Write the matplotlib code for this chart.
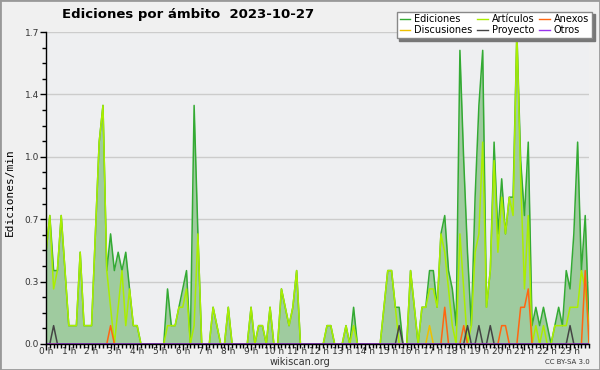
import numpy as np
import matplotlib.pyplot as plt
from matplotlib.ticker import FixedLocator, MultipleLocator, AutoMinorLocator
from matplotlib.patches import Rectangle
from matplotlib.lines import Line2D

# edits/min per 10-minute slot, 12 slots (2 hours) per row
ediciones = [
    0.5, 0.7, 0.4, 0.4, 0.7, 0.4, 0.1, 0.1, 0.1, 0.5, 0.1, 0.1,
    0.1, 0.6, 1.1, 1.3, 0.4, 0.6, 0.4, 0.5, 0.4, 0.5, 0.3, 0.1,
    0.1, 0.0, 0.0, 0.0, 0.0, 0.0, 0.0, 0.0, 0.3, 0.1, 0.1, 0.2,
    0.3, 0.4, 0.0, 1.3, 0.6, 0.0, 0.0, 0.0, 0.2, 0.1, 0.0, 0.0,
    0.2, 0.0, 0.0, 0.0, 0.0, 0.0, 0.2, 0.0, 0.1, 0.1, 0.0, 0.2,
    0.0, 0.0, 0.3, 0.2, 0.1, 0.2, 0.4, 0.0, 0.0, 0.0, 0.0, 0.0,
    0.0, 0.0, 0.1, 0.1, 0.0, 0.0, 0.0, 0.1, 0.0, 0.2, 0.0, 0.0,
    0.0, 0.0, 0.0, 0.0, 0.0, 0.2, 0.4, 0.4, 0.2, 0.2, 0.0, 0.0,
    0.4, 0.2, 0.0, 0.2, 0.2, 0.4, 0.4, 0.2, 0.6, 0.7, 0.4, 0.3,
    0.1, 1.6, 1.0, 0.5, 0.1, 0.8, 1.3, 1.6, 0.2, 0.4, 1.1, 0.6,
    0.9, 0.6, 0.8, 0.8, 1.7, 1.0, 0.7, 1.1, 0.1, 0.2, 0.1, 0.2,
    0.1, 0.0, 0.1, 0.2, 0.1, 0.4, 0.3, 0.6, 1.1, 0.4, 0.7, 0.1,
]
articulos = [
    0.5, 0.7, 0.3, 0.4, 0.7, 0.4, 0.1, 0.1, 0.1, 0.5, 0.1, 0.1,
    0.1, 0.6, 1.1, 1.3, 0.4, 0.2, 0.0, 0.2, 0.4, 0.1, 0.3, 0.1,
    0.1, 0.0, 0.0, 0.0, 0.0, 0.0, 0.0, 0.0, 0.1, 0.1, 0.1, 0.2,
    0.2, 0.3, 0.0, 0.1, 0.6, 0.0, 0.0, 0.0, 0.2, 0.1, 0.0, 0.0,
    0.2, 0.0, 0.0, 0.0, 0.0, 0.0, 0.2, 0.0, 0.1, 0.1, 0.0, 0.2,
    0.0, 0.0, 0.3, 0.2, 0.1, 0.2, 0.4, 0.0, 0.0, 0.0, 0.0, 0.0,
    0.0, 0.0, 0.1, 0.1, 0.0, 0.0, 0.0, 0.1, 0.0, 0.1, 0.0, 0.0,
    0.0, 0.0, 0.0, 0.0, 0.0, 0.2, 0.4, 0.4, 0.2, 0.0, 0.0, 0.0,
    0.4, 0.2, 0.0, 0.2, 0.2, 0.3, 0.3, 0.2, 0.6, 0.5, 0.3, 0.1,
    0.0, 0.6, 0.3, 0.0, 0.1, 0.5, 0.6, 1.1, 0.2, 0.4, 1.0, 0.5,
    0.8, 0.6, 0.8, 0.7, 1.7, 0.9, 0.3, 0.7, 0.0, 0.1, 0.0, 0.1,
    0.0, 0.0, 0.1, 0.1, 0.1, 0.1, 0.2, 0.2, 0.2, 0.4, 0.3, 0.1,
]
anexos = [
    0, 0, 0, 0, 0, 0, 0, 0, 0, 0, 0, 0,
    0, 0, 0, 0, 0, 0.1, 0, 0, 0, 0, 0, 0,
    0, 0, 0, 0, 0, 0, 0, 0, 0, 0, 0, 0,
    0, 0, 0, 0, 0, 0, 0, 0, 0, 0, 0, 0,
    0, 0, 0, 0, 0, 0, 0, 0, 0, 0, 0, 0,
    0, 0, 0, 0, 0, 0, 0, 0, 0, 0, 0, 0,
    0, 0, 0, 0, 0, 0, 0, 0, 0, 0, 0, 0,
    0, 0, 0, 0, 0, 0, 0, 0, 0, 0, 0, 0,
    0, 0, 0, 0, 0, 0, 0, 0, 0, 0.2, 0, 0,
    0, 0, 0.1, 0, 0, 0, 0, 0, 0, 0, 0, 0,
    0.1, 0.1, 0, 0, 0, 0.2, 0.2, 0.3, 0, 0, 0, 0,
    0, 0, 0, 0, 0, 0, 0, 0, 0, 0, 0.4, 0,
]
discusiones = [
    0, 0, 0, 0, 0, 0, 0, 0, 0, 0, 0, 0,
    0, 0, 0, 0, 0, 0, 0, 0, 0, 0, 0, 0,
    0, 0, 0, 0, 0, 0, 0, 0, 0, 0, 0, 0,
    0, 0, 0, 0, 0, 0, 0, 0, 0, 0, 0, 0,
    0, 0, 0, 0, 0, 0, 0, 0, 0, 0, 0, 0,
    0, 0, 0, 0, 0, 0, 0, 0, 0, 0, 0, 0,
    0, 0, 0, 0, 0, 0, 0, 0, 0, 0, 0, 0,
    0, 0, 0, 0, 0, 0, 0, 0, 0, 0, 0, 0,
    0, 0, 0, 0, 0, 0.1, 0, 0, 0, 0, 0, 0,
    0, 0, 0, 0, 0, 0, 0, 0, 0, 0, 0, 0,
    0, 0, 0, 0, 0, 0, 0, 0, 0, 0, 0, 0,
    0, 0, 0, 0, 0, 0, 0, 0, 0, 0, 0, 0,
]
proyecto = [
    0, 0, 0.1, 0, 0, 0, 0, 0, 0, 0, 0, 0,
    0, 0, 0, 0, 0, 0, 0, 0, 0, 0, 0, 0,
    0, 0, 0, 0, 0, 0, 0, 0, 0, 0, 0, 0,
    0, 0, 0, 0, 0, 0, 0, 0, 0, 0, 0, 0,
    0, 0, 0, 0, 0, 0, 0, 0, 0, 0, 0, 0,
    0, 0, 0, 0, 0, 0, 0, 0, 0, 0, 0, 0,
    0, 0, 0, 0, 0, 0, 0, 0, 0, 0, 0, 0,
    0, 0, 0, 0, 0, 0, 0, 0, 0, 0.1, 0, 0,
    0, 0, 0, 0, 0, 0, 0, 0, 0, 0, 0, 0,
    0, 0, 0, 0.1, 0, 0, 0.1, 0, 0, 0.1, 0, 0,
    0, 0, 0, 0, 0, 0, 0, 0, 0, 0, 0, 0,
    0, 0, 0, 0, 0, 0, 0.1, 0, 0, 0, 0, 0,
]
otros = [0] * 144

hour_labels = [f"{h} h" for h in range(24)]
y_max = 1.7

x = np.arange(len(ediciones)) / 6.0  # hours

fig = plt.figure(figsize=(6, 3.7), dpi=100, facecolor='#f0f0f0')
ax = fig.add_axes([0.0767, 0.0703, 0.905, 0.8432])
ax.set_facecolor('#eeeff1')

ax.fill_between(x, ediciones, color='#9fcb9f', lw=0, zorder=1)
series = [
    ('Ediciones', ediciones, '#33aa33'),
    ('Artículos', articulos, '#aaee00'),
    ('Anexos', anexos, '#ff6611'),
    ('Discusiones', discusiones, '#eec000'),
    ('Proyecto', proyecto, '#444444'),
    ('Otros', otros, '#9933ee'),
]
for name, vals, col in series:
    ax.plot(x, vals, color=col, lw=1.1, zorder=2)

ax.set_xlim(0, x[-1])
ax.set_ylim(0, y_max)

yt = [y_max * k / 5 for k in range(6)]
ax.yaxis.set_major_locator(FixedLocator(yt))
ax.set_yticklabels([f"{v:.1f}" for v in yt])
ax.yaxis.set_minor_locator(AutoMinorLocator(4))
ax.set_xticks(range(24))
ax.set_xticklabels(hour_labels)
ax.xaxis.set_minor_locator(MultipleLocator(1 / 6))

ax.tick_params(axis='both', which='major', labelsize=6.5, labelcolor='#333333',
               length=4, width=1, direction='out', pad=1)
ax.tick_params(axis='x', which='major', pad=-1.5)
ax.tick_params(axis='both', which='minor', length=3, width=1, direction='out')
ax.grid(axis='y', which='major', color='#cccccc', lw=1)
ax.set_axisbelow(True)
for s in ['top', 'right']:
    ax.spines[s].set_visible(False)
for s in ['left', 'bottom']:
    ax.spines[s].set_linewidth(1)

fig.text(0.313, 0.962, 'Ediciones por ámbito  2023-10-27', ha='center', va='center',
         fontsize=9.5, fontweight='bold')
fig.text(0.017, 0.48, 'Ediciones/min', rotation=90, ha='center', va='center',
         family='DejaVu Sans Mono', fontsize=8)
fig.text(0.5, 0.022, 'wikiscan.org', ha='center', va='center', fontsize=7, color='#333333')
fig.text(0.983, 0.022, 'CC BY-SA 3.0', ha='right', va='center', fontsize=5, color='#333333')

order = [0, 3, 1, 4, 2, 5]
handles = [Line2D([], [], color=series[i][2], lw=1) for i in order]
labels = [series[i][0] for i in order]
fig.legend(handles, labels, ncol=3, loc='upper right', bbox_to_anchor=(0.995, 0.982),
           fontsize=7, fancybox=False, shadow={'color': '#777777', 'alpha': 1},
           edgecolor='#888888', handlelength=1.1, columnspacing=0.5, labelspacing=0.05,
           borderpad=0.3, handletextpad=0.4, framealpha=1)

fig.patches.append(Rectangle((0, 0), 1, 1, transform=fig.transFigure, fill=False,
                             edgecolor='#999999', lw=2))

fig.savefig('out.png', dpi=100, facecolor=fig.get_facecolor())
